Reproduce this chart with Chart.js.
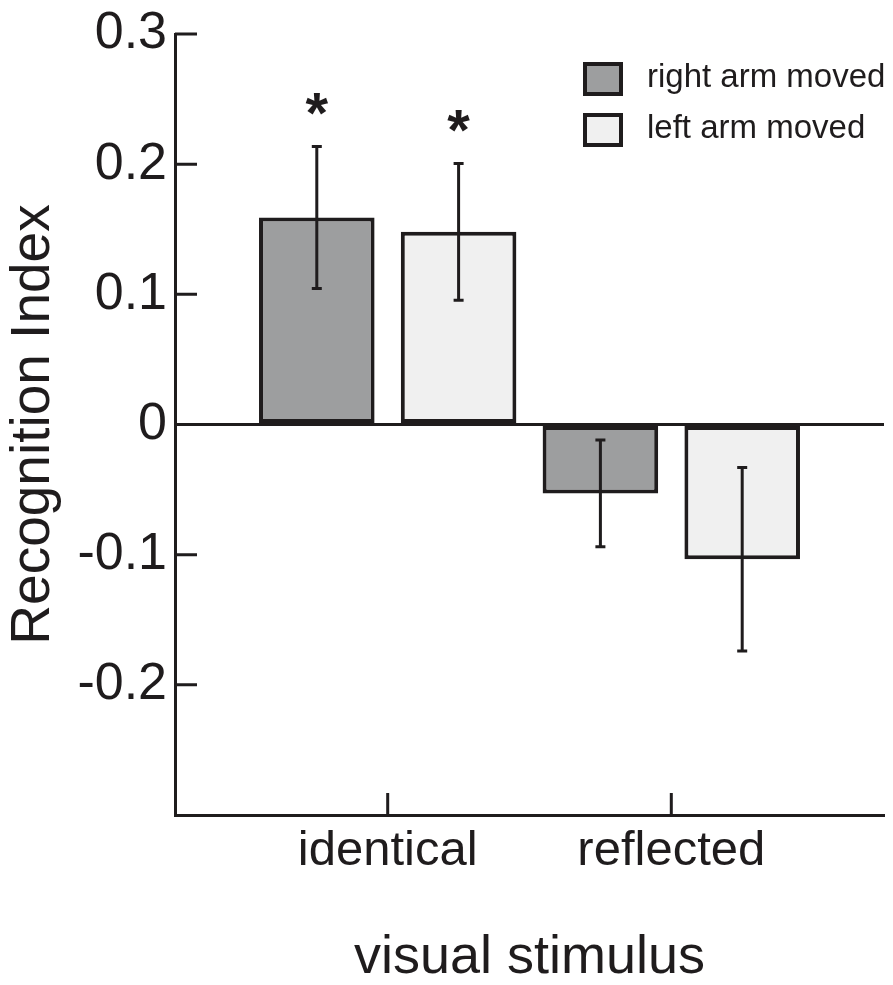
<!DOCTYPE html>
<html>
<head>
<meta charset="utf-8">
<script src="https://cdn.jsdelivr.net/npm/chart.js@4"></script>
<style>
  body { margin: 0; background: #fff; }
  #wrap { width: 893px; height: 985px; }
</style>
</head>
<body>
<div id="wrap"><canvas id="recChart"></canvas></div>
<script>
// data
const categories = ["identical", "reflected"];
const rightArm = [0.159, -0.053];
const leftArm = [0.148, -0.1035];
const rightErr = [0.0545, 0.041];
const leftErr = [0.0525, 0.0705];
const rightStar = [true, false];
const leftStar = [true, false];
const yTickValues = [0.3, 0.2, 0.1, 0, -0.1, -0.2];
const yTickLabels = ["0.3", "0.2", "0.1", "0", "-0.1", "-0.2"];

const ink = "#1f1c1d";
const fontFam = "'Liberation Sans', Arial, Helvetica, sans-serif";

function toPoints(vals) {
    return vals.map((v, i) => ({ x: i + 1, y: v }));
}

// error bars + asterisks
const errorBarPlugin = {
    id: 'errorBars',
    afterDatasetsDraw(chart) {
        const ctx = chart.ctx;
        const yScale = chart.scales.y;
        chart.data.datasets.forEach((ds, di) => {
            const meta = chart.getDatasetMeta(di);
            meta.data.forEach((bar, i) => {
                const v = ds.data[i].y;
                const e = ds.errors[i];
                const top = yScale.getPixelForValue(v + e);
                const bot = yScale.getPixelForValue(v - e);
                ctx.save();
                ctx.strokeStyle = ink;
                ctx.lineWidth = 3;
                ctx.beginPath();
                ctx.moveTo(bar.x, top);
                ctx.lineTo(bar.x, bot);
                ctx.moveTo(bar.x - 5, top);
                ctx.lineTo(bar.x + 5, top);
                ctx.moveTo(bar.x - 5, bot);
                ctx.lineTo(bar.x + 5, bot);
                ctx.stroke();
                if (ds.stars[i]) {
                    ctx.fillStyle = ink;
                    ctx.font = "bold 58px " + fontFam;
                    ctx.textAlign = 'center';
                    ctx.textBaseline = 'alphabetic';
                    ctx.fillText('*', bar.x, top - 47 + 33);
                }
                ctx.restore();
            });
        });
    }
};

// inward tick marks on both axes
const innerTicksPlugin = {
    id: 'innerTicks',
    afterDatasetsDraw(chart) {
        const ctx = chart.ctx;
        const area = chart.chartArea;
        const xs = chart.scales.x, ys = chart.scales.y;
        ctx.save();
        ctx.strokeStyle = ink;
        ctx.lineWidth = 3;
        ctx.beginPath();
        ys.ticks.forEach(t => {
            const py = ys.getPixelForValue(t.value);
            ctx.moveTo(area.left, py);
            ctx.lineTo(area.left + 22, py);
        });
        xs.ticks.forEach(t => {
            const px = xs.getPixelForValue(t.value);
            ctx.moveTo(px, area.bottom);
            ctx.lineTo(px, area.bottom - 22);
        });
        ctx.stroke();
        ctx.restore();
    }
};

// boxed legend in the top right corner
const boxLegendPlugin = {
    id: 'boxLegend',
    afterDraw(chart) {
        const ctx = chart.ctx;
        const x0 = 583, y0 = 62;
        ctx.save();
        chart.data.datasets.forEach((ds, i) => {
            const y = y0 + i * 51;
            ctx.fillStyle = ds.backgroundColor;
            ctx.fillRect(x0, y, 40, 34);
            ctx.strokeStyle = ink;
            ctx.lineWidth = 4;
            ctx.strokeRect(x0 + 2, y + 2, 36, 30);
            ctx.fillStyle = ink;
            ctx.font = "33px " + fontFam;
            ctx.textAlign = 'left';
            ctx.textBaseline = 'alphabetic';
            ctx.fillText(ds.label, 647, y + 25);
        });
        ctx.restore();
    }
};

const ctx = document.getElementById('recChart').getContext('2d');
new Chart(ctx, {
    type: 'bar',
    data: {
        datasets: [{
            label: "right arm moved",
            data: toPoints(rightArm),
            errors: rightErr,
            stars: rightStar,
            backgroundColor: "#9d9e9f",
            borderColor: ink,
            borderWidth: 4,
            borderSkipped: false
        }, {
            label: "left arm moved",
            data: toPoints(leftArm),
            errors: leftErr,
            stars: leftStar,
            backgroundColor: "#f0f0f0",
            borderColor: ink,
            borderWidth: 4,
            borderSkipped: false
        }]
    },
    options: {
        responsive: true,
        maintainAspectRatio: false,
        animation: false,
        layout: { padding: { top: 32, right: 9, left: 0, bottom: 0 } },
        datasets: {
            bar: { categoryPercentage: 1, barPercentage: 0.815 }
        },
        scales: {
            x: {
                type: 'linear',
                offset: false,
                min: 0.25,
                max: 2.75,
                afterBuildTicks: (scale) => {
                    scale.ticks = categories.map((c, i) => ({ value: i + 1 }));
                },
                afterFit: (scale) => { scale.height = 170; },
                grid: { display: false, drawTicks: false, offset: false },
                border: { display: true, color: ink, width: 3 },
                ticks: {
                    padding: 7,
                    color: ink,
                    font: { family: fontFam, size: 49 },
                    callback: (v, i) => categories[i]
                },
                title: {
                    display: true,
                    text: "visual stimulus",
                    color: ink,
                    font: { family: fontFam, size: 54, lineHeight: 1 },
                    padding: 0
                }
            },
            y: {
                min: -0.3,
                max: 0.3,
                afterBuildTicks: (scale) => {
                    scale.ticks = yTickValues.map(v => ({ value: v }));
                },
                afterFit: (scale) => { scale.width = 175; },
                grid: {
                    drawTicks: false,
                    color: (c) => (c.tick && c.tick.value === 0) ? ink : 'rgba(0,0,0,0)',
                    lineWidth: (c) => (c.tick && c.tick.value === 0) ? 3 : 0
                },
                border: { display: true, color: ink, width: 3 },
                ticks: {
                    padding: 8,
                    color: ink,
                    font: { family: fontFam, size: 52, lineHeight: 1 },
                    callback: (v, i) => yTickLabels[i]
                },
                title: {
                    display: true,
                    text: "Recognition Index",
                    color: ink,
                    font: { family: fontFam, size: 55, lineHeight: 1.2 },
                    padding: { top: 1, bottom: 0 }
                }
            }
        },
        plugins: {
            legend: { display: false },
            tooltip: { enabled: false }
        }
    },
    plugins: [errorBarPlugin, innerTicksPlugin, boxLegendPlugin]
});
</script>
</body>
</html>
